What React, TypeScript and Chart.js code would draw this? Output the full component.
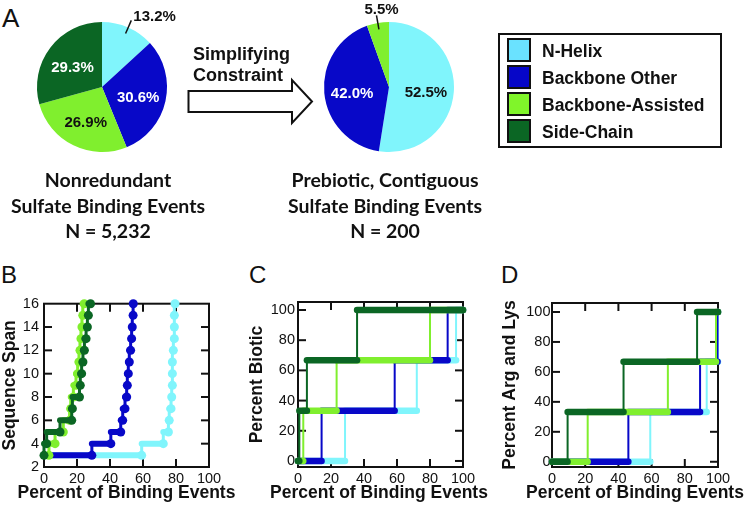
import React, { useEffect, useRef } from "react";
import { Chart, registerables } from "chart.js";

Chart.register(...registerables);

const FONT = '"Liberation Sans", Arial, Helvetica, sans-serif';
const CAPTION_FONT = 'Lato, "Open Sans", sans-serif';

// ---- categories & colours ----
const CATEGORIES = ["N-Helix", "Backbone Other", "Backbone-Assisted", "Side-Chain"];
const COLORS = ["#80F5FC", "#0808C8", "#80EF2E", "#0B6624"];
const LEGEND_COLORS = ["#6AE2FF", "#0606C8", "#80F52A", "#0B6624"];
const SLICE_TEXT = ["#111111", "#FFFFFF", "#111111", "#FFFFFF"];

// ---- panel A: pies (percent of events) ----
const PIE_NONREDUNDANT = [13.2, 30.6, 26.9, 29.3];
const PIE_PREBIOTIC = [52.5, 42.0, 5.5, 0];
const CAPTION_LEFT = ["Nonredundant", "Sulfate Binding Events", "N = 5,232"];
const CAPTION_RIGHT = ["Prebiotic, Contiguous", "Sulfate Binding Events", "N = 200"];
const ARROW_TEXT = ["Simplifying", "Constraint"];

// ---- axis titles ----
const X_TITLE = "Percent of Binding Events";
const Y_TITLES = ["Sequence Span", "Percent Biotic", "Percent Arg and Lys"];

// ---- panel B: cumulative percent of binding events by sequence span ----
const SPAN_LEVELS = [3, 4, 5, 6, 7, 8, 9, 10, 11, 12, 13, 14, 15, 16];
const SPAN_NHELIX = [59.2, 72.3, 75.4, 75.9, 77, 77.4, 77.8, 77.8, 77.8, 78.4, 79, 79, 79, 79.4];
const SPAN_BACKBONE = [29, 40.5, 46.5, 47.7, 49.1, 50.1, 50.5, 51.1, 51.7, 52.5, 53.1, 53.5, 54, 54.1];
const SPAN_ASSISTED = [3, 6.7, 11.7, 15.5, 16.2, 17.8, 19.4, 20.4, 21.2, 21.8, 22.4, 23, 23.5, 24.4];
const SPAN_SIDECHAIN = [0, 1.6, 9.7, 16.8, 17.2, 21.5, 22, 22.8, 23.6, 24.5, 25.5, 26.3, 26.9, 28.2];

// ---- panel C: cumulative percent by percent biotic ----
const BIOTIC_LEVELS = [0, 33.3, 66.7, 100];
const BIOTIC_NHELIX = [28.5, 72, 95.8, 100];
const BIOTIC_BACKBONE = [14.3, 58.6, 90.7, 100];
const BIOTIC_ASSISTED = [3.2, 23.4, 80, 100];
const BIOTIC_SIDECHAIN = [0.8, 5.4, 35.8, 100];

// ---- panel D: cumulative percent by percent Arg and Lys ----
const ARGLYS_LEVELS = [0, 33.3, 66.7, 100];
const ARGLYS_NHELIX = [59.2, 93.2, 100, 100];
const ARGLYS_BACKBONE = [46, 89.2, 99.7, 100];
const ARGLYS_ASSISTED = [21.5, 69.8, 98.8, 100];
const ARGLYS_SIDECHAIN = [9.4, 43.1, 87.4, 100];

// ---- helpers ----
function stepPoints(values: number[], levels: number[]) {
  const pts: { x: number; y: number }[] = [{ x: 0, y: levels[0] }];
  values.forEach((v, i) => {
    if (i > 0) pts.push({ x: values[i - 1], y: levels[i] });
    pts.push({ x: v, y: levels[i] });
  });
  return pts;
}

function stepDatasets(series: number[][], levels: number[], thick: number, thin: number, dot: number) {
  return series.map((vals, i) => ({
    label: CATEGORIES[i],
    data: stepPoints(vals, levels),
    borderColor: COLORS[i],
    backgroundColor: COLORS[i],
    pointBackgroundColor: COLORS[i],
    pointBorderWidth: 0,
    pointRadius: (c: any) => (dot > 0 && c.dataIndex % 2 === 1 ? dot : 0),
    pointHoverRadius: 0,
    borderCapStyle: "round",
    borderJoinStyle: "round",
    borderWidth: thick,
    segment: {
      borderWidth: (c: any) => (c.p0.parsed.y === c.p1.parsed.y ? thick : thin),
    },
    tension: 0,
    fill: false,
    clip: false,
    order: series.length - 1 - i,
  }));
}

const frameTicks = {
  id: "frameTicks",
  beforeDatasetsDraw(chart: any) {
    const { ctx, chartArea: a, scales } = chart;
    const L = 8;
    ctx.save();
    ctx.strokeStyle = "#111";
    ctx.lineWidth = 2;
    ctx.strokeRect(a.left, a.top, a.right - a.left, a.bottom - a.top);
    const seg = (x1: number, y1: number, x2: number, y2: number) => {
      ctx.beginPath();
      ctx.moveTo(x1, y1);
      ctx.lineTo(x2, y2);
      ctx.stroke();
    };
    const xs = scales.x;
    xs.ticks.forEach((t: any) => {
      const px = xs.getPixelForValue(t.value);
      if (px <= a.left + 1 || px >= a.right - 1) return;
      seg(px, a.bottom, px, a.bottom - L);
      seg(px, a.top, px, a.top + L);
    });
    const ys = scales.y;
    ys.ticks.forEach((t: any) => {
      const py = ys.getPixelForValue(t.value);
      if (py <= a.top + 1 || py >= a.bottom - 1) return;
      seg(a.left, py, a.left + L, py);
      seg(a.right, py, a.right - L, py);
    });
    ctx.restore();
  },
};

function panelConfig(
  datasets: any[],
  x: { min: number; max: number; step: number },
  y: { min: number; max: number; step: number },
  yTitle: string,
  yWidth: number,
  yPad: number,
  padTop: number,
  padRight: number
) {
  const tickFont = { family: FONT, size: 14.5, weight: "normal" as const };
  const titleFont = { family: FONT, size: 17.5, weight: "bold" as const };
  return {
    type: "line" as const,
    data: { datasets },
    options: {
      responsive: false,
      animation: false as const,
      events: [],
      layout: { padding: { left: 0, top: padTop, right: padRight, bottom: 0 } },
      plugins: { legend: { display: false }, tooltip: { enabled: false } },
      scales: {
        x: {
          type: "linear" as const,
          min: x.min,
          max: x.max,
          ticks: { stepSize: x.step, includeBounds: false, color: "#111", font: tickFont, padding: 3, maxRotation: 0 },
          grid: { display: false, drawTicks: false },
          border: { display: false },
          title: { display: false },
          afterFit: (s: any) => {
            s.height = 38;
          },
        },
        y: {
          type: "linear" as const,
          min: y.min,
          max: y.max,
          ticks: { stepSize: y.step, includeBounds: false, color: "#111", font: tickFont, padding: yPad },
          grid: { display: false, drawTicks: false },
          border: { display: false },
          title: { display: true, text: yTitle, color: "#111", font: titleFont, padding: { top: 0, bottom: 0 } },
          afterFit: (s: any) => {
            s.width = yWidth;
          },
        },
      },
    },
    plugins: [frameTicks],
  };
}

const pieLabels = {
  id: "pieLabels",
  afterDatasetsDraw(chart: any) {
    const { ctx } = chart;
    const meta = chart.getDatasetMeta(0);
    const values: number[] = chart.data.datasets[0].data;
    const total = values.reduce((s, v) => s + v, 0);
    ctx.save();
    ctx.font = `bold 15px ${FONT}`;
    meta.data.forEach((arc: any, i: number) => {
      const v = values[i];
      if (!v) return;
      const p = arc.getProps(["x", "y", "startAngle", "endAngle", "outerRadius"], true);
      const mid = (p.startAngle + p.endAngle) / 2;
      const c = Math.cos(mid);
      const s = Math.sin(mid);
      const r = p.outerRadius;
      const txt = ((v / total) * 100).toFixed(1) + "%";
      if (v / total < 0.15) {
        const x1 = p.x + c * r * 0.9;
        const y1 = p.y + s * r * 0.9;
        const x2 = p.x + c * r * 1.12;
        const y2 = p.y + s * r * 1.12;
        ctx.strokeStyle = "#111";
        ctx.lineWidth = 1.5;
        ctx.beginPath();
        ctx.moveTo(x1, y1);
        ctx.lineTo(x2, y2);
        ctx.stroke();
        ctx.fillStyle = "#111";
        ctx.textBaseline = "middle";
        if (c > 0.3) {
          ctx.textAlign = "left";
          ctx.fillText(txt, x2 + 2, y2 - 4);
        } else {
          ctx.textAlign = "center";
          ctx.fillText(txt, x2 + 5, y2 - 5);
        }
      } else {
        ctx.fillStyle = SLICE_TEXT[i];
        ctx.textAlign = "center";
        ctx.textBaseline = "middle";
        ctx.fillText(txt, p.x + c * r * 0.57, p.y + s * r * 0.57 + 3);
      }
    });
    ctx.restore();
  },
};

function pieConfig(values: number[]) {
  return {
    type: "pie" as const,
    data: {
      labels: CATEGORIES,
      datasets: [{ data: values, backgroundColor: COLORS, borderWidth: 0, hoverOffset: 0, offset: 0 }],
    },
    options: {
      responsive: false,
      animation: false as const,
      events: [],
      layout: { padding: { left: 20, top: 22, right: 20, bottom: 22 } },
      plugins: { legend: { display: false }, tooltip: { enabled: false } },
    },
    plugins: [pieLabels],
  };
}

function ChartCanvas({ left, top, width, height, make }: { left: number; top: number; width: number; height: number; make: () => any }) {
  const ref = useRef<HTMLCanvasElement>(null);
  useEffect(() => {
    const chart = new Chart(ref.current as HTMLCanvasElement, make());
    return () => chart.destroy();
  }, []);
  return <canvas ref={ref} width={width} height={height} style={{ position: "absolute", left, top, width, height }} />;
}

function Caption({ lines, cx }: { lines: string[]; cx: number }) {
  return (
    <div
      style={{
        position: "absolute",
        left: cx - 130,
        top: 167,
        width: 260,
        textAlign: "center",
        fontFamily: CAPTION_FONT,
        fontWeight: 700,
        fontSize: 19.5,
        lineHeight: "25.5px",
        color: "#111",
        whiteSpace: "nowrap",
      }}
    >
      {lines.map((l) => (
        <div key={l}>{l}</div>
      ))}
    </div>
  );
}

function XTitle({ cx }: { cx: number }) {
  return (
    <div
      style={{
        position: "absolute",
        left: cx - 130,
        top: 481.5,
        width: 260,
        textAlign: "center",
        fontFamily: FONT,
        fontWeight: 700,
        fontSize: 17.5,
        lineHeight: "20px",
        color: "#111",
        whiteSpace: "nowrap",
      }}
    >
      {X_TITLE}
    </div>
  );
}

function PanelLetter({ text, left, top, size }: { text: string; left: number; top: number; size: number }) {
  return (
    <div style={{ position: "absolute", left, top, fontFamily: FONT, fontSize: size, lineHeight: `${size}px`, color: "#111" }}>{text}</div>
  );
}

export default function App() {
  const spanSeries = [SPAN_NHELIX, SPAN_BACKBONE, SPAN_ASSISTED, SPAN_SIDECHAIN];
  const bioticSeries = [BIOTIC_NHELIX, BIOTIC_BACKBONE, BIOTIC_ASSISTED, BIOTIC_SIDECHAIN];
  const argSeries = [ARGLYS_NHELIX, ARGLYS_BACKBONE, ARGLYS_ASSISTED, ARGLYS_SIDECHAIN];

  return (
    <div style={{ position: "absolute", left: 0, top: 0, width: 747, height: 505, background: "#fff", overflow: "hidden" }}>
      <PanelLetter text="A" left={2} top={5} size={26} />
      <PanelLetter text="B" left={1} top={263} size={24} />
      <PanelLetter text="C" left={249} top={263} size={24} />
      <PanelLetter text="D" left={501} top={263} size={24} />

      <ChartCanvas left={17} top={0} width={170} height={174} make={() => pieConfig(PIE_NONREDUNDANT)} />
      <ChartCanvas left={304} top={0} width={170} height={174} make={() => pieConfig(PIE_PREBIOTIC)} />

      <svg style={{ position: "absolute", left: 0, top: 0 }} width={747} height={200}>
        <polygon
          points="188.5,91 292,91 292,80 312,101.5 292,123 292,112 188.5,112"
          fill="#fff"
          stroke="#111"
          strokeWidth={2}
        />
      </svg>
      <div
        style={{
          position: "absolute",
          left: 193,
          top: 43.5,
          fontFamily: FONT,
          fontWeight: 700,
          fontSize: 18,
          lineHeight: "21.3px",
          color: "#111",
          whiteSpace: "nowrap",
        }}
      >
        {ARROW_TEXT.map((t) => (
          <div key={t}>{t}</div>
        ))}
      </div>

      <Caption lines={CAPTION_LEFT} cx={108} />
      <Caption lines={CAPTION_RIGHT} cx={385} />

      <div style={{ position: "absolute", left: 498, top: 33, width: 224, height: 115, border: "2px solid #111", boxSizing: "border-box" }} />
      {CATEGORIES.map((c, i) => (
        <React.Fragment key={c}>
          <div
            style={{
              position: "absolute",
              left: 507,
              top: 38 + i * 27,
              width: 24,
              height: 24,
              boxSizing: "border-box",
              border: "2px solid #111",
              background: LEGEND_COLORS[i],
            }}
          />
          <div
            style={{
              position: "absolute",
              left: 542,
              top: 38 + i * 27,
              height: 24,
              lineHeight: "26px",
              fontFamily: FONT,
              fontWeight: 700,
              fontSize: 17.5,
              color: "#111",
              whiteSpace: "nowrap",
            }}
          >
            {c}
          </div>
        </React.Fragment>
      ))}

      <ChartCanvas
        left={0}
        top={290}
        width={245}
        height={215}
        make={() =>
          panelConfig(stepDatasets(spanSeries, SPAN_LEVELS, 6, 3, 4.5), { min: 0, max: 100, step: 20 }, { min: 2, max: 16, step: 2 }, Y_TITLES[0], 44, 5, 12, 36)
        }
      />
      <ChartCanvas
        left={247}
        top={290}
        width={240}
        height={215}
        make={() =>
          panelConfig(stepDatasets(bioticSeries, BIOTIC_LEVELS, 6.5, 2, 0), { min: 0, max: 100, step: 20 }, { min: -4, max: 105.3, step: 20 }, Y_TITLES[1], 51, 3, 12, 24)
        }
      />
      <ChartCanvas
        left={500}
        top={290}
        width={247}
        height={215}
        make={() =>
          panelConfig(stepDatasets(argSeries, ARGLYS_LEVELS, 6.5, 2, 0), { min: 0, max: 100, step: 20 }, { min: -3.5, max: 106, step: 20 }, Y_TITLES[2], 52, 1.5, 13, 29)
        }
      />
      <XTitle cx={126.5} />
      <XTitle cx={379} />
      <XTitle cx={635} />
    </div>
  );
}
